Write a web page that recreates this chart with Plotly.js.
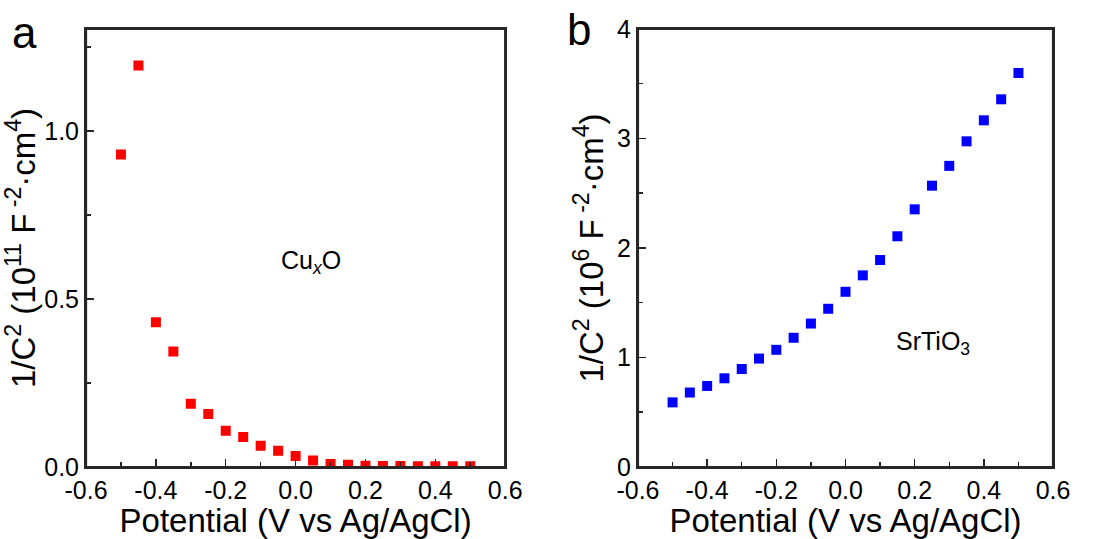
<!DOCTYPE html>
<html><head><meta charset="utf-8">
<script src="https://cdn.plot.ly/plotly-3.0.1.min.js"></script>
<style>html,body{margin:0;padding:0;background:#fff;}#chart{width:1103px;height:539px;}</style>
</head><body><div id="chart"></div>
<script>
const potential = [-0.5,-0.45,-0.4,-0.35,-0.3,-0.25,-0.2,-0.15,-0.1,-0.05,0,0.05,0.1,0.15,0.2,0.25,0.3,0.35,0.4,0.45,0.5];
const cuxoInvC2 = [0.93,1.195,0.431,0.344,0.188,0.158,0.108,0.089,0.063,0.048,0.033,0.019,0.009,0.007,0.004,0.003,0.003,0.002,0.002,0.002,0.002];
const srtioInvC2 = [0.59,0.68,0.74,0.81,0.895,0.99,1.07,1.18,1.31,1.445,1.60,1.75,1.89,2.107,2.353,2.569,2.75,2.974,3.166,3.358,3.598];
const xTickVals = [-0.6,-0.4,-0.2,0,0.2,0.4,0.6];
const xTickText = ["-0.6","-0.4","-0.2","0.0","0.2","0.4","0.6"];
const yaTickVals = [0,0.5,1.0];
const yaTickText = ["0.0","0.5","1.0"];
const ybTickVals = [0,1,2,3,4];
const ybTickText = ["0","1","2","3","4"];

const FONT = "Liberation Sans, Arial, sans-serif";
const LINE = '#262626';
const DOM_A = [0.078,0.458], DOM_B = [0.5784,0.9547], DOM_Y = [0.1336,0.9462];
const baseAxis = {
  showline:true, linecolor:LINE, linewidth:2, mirror:true,
  ticks:'inside', ticklen:8, tickwidth:1.5, tickcolor:LINE,
  showgrid:false, zeroline:false, automargin:false,
  tickfont:{family:FONT,size:25,color:'#000'}
};
function xax(domain, anchor){
  return Object.assign({}, baseAxis, {
    domain:domain, anchor:anchor, range:[-0.6,0.6],
    tickmode:'array', tickvals:xTickVals, ticktext:xTickText,
    minor:{tickvals:[-0.5,-0.3,-0.1,0.1,0.3,0.5], ticks:'inside', ticklen:5, tickwidth:1.5, tickcolor:LINE},
    title:{text:'Potential (V vs Ag/AgCl)', font:{family:FONT,size:33,color:'#000'}, standoff:4}
  });
}
function frame(dx){
  return {type:'rect', xref:'paper', yref:'paper', x0:dx[0], x1:dx[1], y0:DOM_Y[0], y1:DOM_Y[1], line:{color:LINE, width:2.2}, fillcolor:'rgba(0,0,0,0)', layer:'above'};
}
const layout = {
  width:1103, height:539, margin:{l:0,r:0,t:0,b:0},
  paper_bgcolor:'#fff', plot_bgcolor:'#fff', showlegend:false,
  xaxis: xax(DOM_A,'y'),
  yaxis: Object.assign({}, baseAxis, {
    domain:DOM_Y, anchor:'x', range:[0,1.304],
    tickmode:'array', tickvals:yaTickVals, ticktext:yaTickText,
    minor:{tickvals:[0.25,0.75,1.25], ticks:'inside', ticklen:5, tickwidth:1.5, tickcolor:LINE},
    title:{text:'1/C<sup>2</sup> (10<sup>11</sup> F<sup> -2</sup>·cm<sup>4</sup>)', font:{family:FONT,size:33,color:'#000'}, standoff:4}
  }),
  xaxis2: xax(DOM_B,'y2'),
  yaxis2: Object.assign({}, baseAxis, {
    domain:DOM_Y, anchor:'x2', range:[0,4],
    tickmode:'array', tickvals:ybTickVals, ticktext:ybTickText,
    minor:{tickvals:[0.5,1.5,2.5,3.5], ticks:'inside', ticklen:5, tickwidth:1.5, tickcolor:LINE},
    title:{text:'1/C<sup>2</sup> (10<sup>6</sup> F<sup> -2</sup>·cm<sup>4</sup>)', font:{family:FONT,size:33,color:'#000'}, standoff:4}
  }),
  shapes:[frame(DOM_A), frame(DOM_B)],
  annotations:[
    {text:'a', xref:'paper', yref:'paper', x:24/1103, y:1-33/539, xanchor:'center', yanchor:'middle', showarrow:false, font:{family:FONT,size:44,color:'#000'}},
    {text:'b', xref:'paper', yref:'paper', x:579/1103, y:1-30/539, xanchor:'center', yanchor:'middle', showarrow:false, font:{family:FONT,size:44,color:'#000'}},
    {text:'Cu<sub><i>x</i></sub>O', xref:'paper', yref:'paper', x:311/1103, y:1-262/539, xanchor:'center', yanchor:'middle', showarrow:false, font:{family:FONT,size:25,color:'#000'}},
    {text:'SrTiO<sub>3</sub>', xref:'paper', yref:'paper', x:933/1103, y:1-343/539, xanchor:'center', yanchor:'middle', showarrow:false, font:{family:FONT,size:25,color:'#000'}}
  ]
};
const data = [
  {x:potential, y:cuxoInvC2, xaxis:'x', yaxis:'y', type:'scatter', mode:'markers', marker:{symbol:'square', size:10, color:'#ff0000', line:{width:0}}},
  {x:potential, y:srtioInvC2, xaxis:'x2', yaxis:'y2', type:'scatter', mode:'markers', marker:{symbol:'square', size:10, color:'#0000ff', line:{width:0}}}
];
Plotly.newPlot('chart', data, layout, {displayModeBar:false, staticPlot:true});
</script></body></html>
